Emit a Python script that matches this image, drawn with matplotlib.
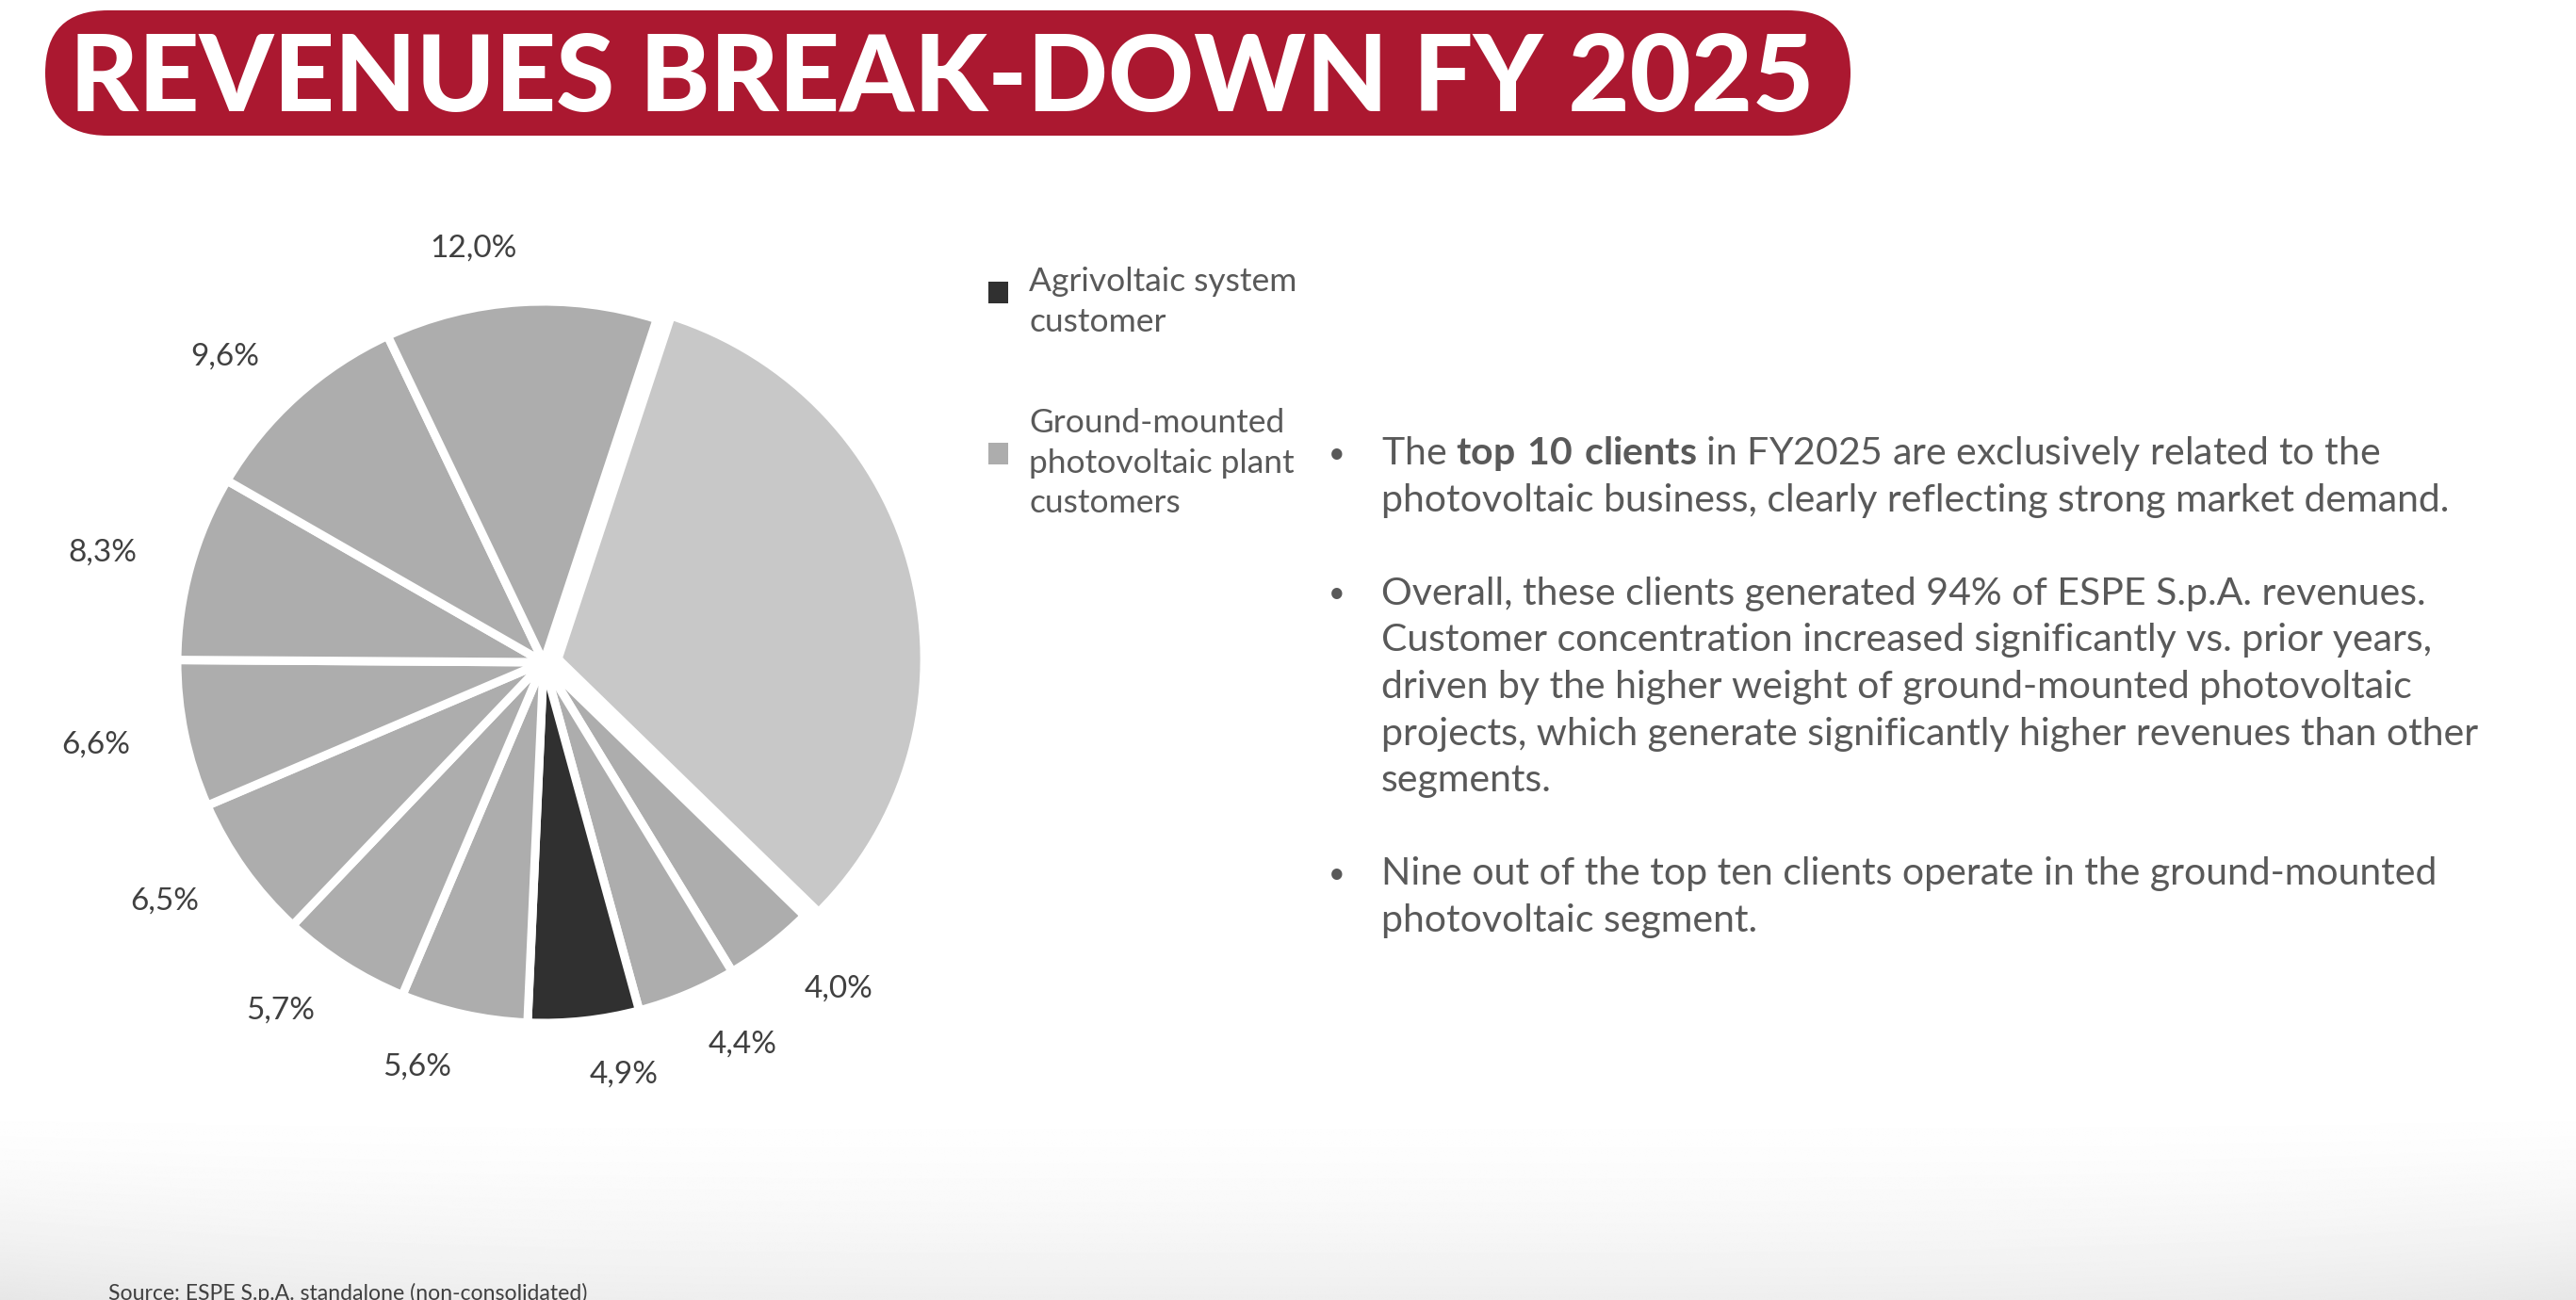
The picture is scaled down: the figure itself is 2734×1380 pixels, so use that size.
import numpy as np
import matplotlib
matplotlib.use("Agg")
import matplotlib.pyplot as plt
from matplotlib.patches import FancyBboxPatch, Rectangle

plt.rcParams['font.family'] = ['Lato', 'DejaVu Sans']
plt.rcParams['mathtext.fontset'] = 'custom'
plt.rcParams['mathtext.rm'] = 'Lato'
plt.rcParams['mathtext.bf'] = 'Lato:bold'

# ---- data ----
title = "REVENUES BREAK-DOWN FY 2025"
shares = [32.4, 4.0, 4.4, 4.9, 5.6, 5.7, 6.5, 6.6, 8.3, 9.6, 12.0]
share_labels = ["", "4,0%", "4,4%", "4,9%", "5,6%", "5,7%", "6,5%", "6,6%",
                "8,3%", "9,6%", "12,0%"]
segments = ["other", "ground", "ground", "agri", "ground", "ground", "ground",
            "ground", "ground", "ground", "ground"]
legend_keys = ["agri", "ground"]
legend_labels = ["Agrivoltaic system\ncustomer",
                 "Ground-mounted\nphotovoltaic plant\ncustomers"]
bullets = [
    [r"The $\mathbf{top\ 10\ clients}$ in FY2025 are exclusively related to the",
     "photovoltaic business, clearly reflecting strong market demand."],
    ["Overall, these clients generated 94% of ESPE S.p.A. revenues.",
     "Customer concentration increased significantly vs. prior years,",
     "driven by the higher weight of ground-mounted photovoltaic",
     "projects, which generate significantly higher revenues than other",
     "segments."],
    ["Nine out of the top ten clients operate in the ground-mounted",
     "photovoltaic segment."],
]
source = "Source: ESPE S.p.A. standalone (non-consolidated)"

seg_colors = {"other": "#c8c8c8", "ground": "#adadad", "agri": "#303030"}
text_grey = "#595959"

W, H = 2734, 1380
fig = plt.figure(figsize=(W / 100, H / 100), dpi=100)

# background axes in pixel units (y down)
bg = fig.add_axes([0, 0, 1, 1])
bg.set_xlim(0, W)
bg.set_ylim(H, 0)
bg.axis('off')

# soft grey fade at the bottom
v = np.linspace(0, 1, 200)[:, None]
u = np.linspace(-1, 1, 400)[None, :]
shade = 1 - (v ** 1.6) * (0.065 + 0.03 * np.abs(u) ** 4)
bg.imshow(shade, extent=(0, W, H, 1160), cmap='gray', vmin=0, vmax=1,
          aspect='auto', interpolation='bilinear', zorder=0)

# title pill
pill = FancyBboxPatch((48, 11), 1916, 133,
                      boxstyle="round,pad=0,rounding_size=66.5",
                      fc="#ab1830", ec="none", zorder=2)
bg.add_patch(pill)
bg.text(74, 118, title, ha='left', va='baseline', fontsize=81,
        fontweight='black', color='white', zorder=3)

# pie
cx, cy = 577, 703
rx, ry = 389, 383
lim = 1.4
pie_ax = fig.add_axes([(cx - lim * rx) / W, 1 - (cy + lim * ry) / H,
                       2 * lim * rx / W, 2 * lim * ry / H])
wedges, texts = pie_ax.pie(
    shares, labels=share_labels,
    colors=[seg_colors[s] for s in segments],
    explode=[0.04 if s == "other" else 0 for s in segments],
    startangle=72, counterclock=False, labeldistance=1.15,
    wedgeprops=dict(edgecolor='white', linewidth=6.5),
    textprops=dict(fontsize=24, color='#404040'))
pie_ax.set_aspect('auto')
pie_ax.set_xlim(-lim, lim)
pie_ax.set_ylim(-lim, lim)

# legend
leg_x, sq_w, sq_h = 1049, 21, 23
leg_pitch = 42.5
leg_tops = [299, 449]
for key, lab, top in zip(legend_keys, legend_labels, leg_tops):
    n = lab.count("\n") + 1
    for i, line in enumerate(lab.split("\n")):
        bg.text(leg_x + 43, top + i * leg_pitch, line, ha='left', va='center',
                fontsize=25.5, color=text_grey)
    mid = top + (n - 1) * leg_pitch / 2 - 10
    bg.add_patch(Rectangle((leg_x, mid - sq_h / 2), sq_w, sq_h,
                           fc=seg_colors[key], ec='none'))

# bullet text
pitch = 49.5
y0 = 482
k = 0
for para in bullets:
    bg.text(1419, y0 + k * pitch, "\u2022", ha='center', va='center',
            fontsize=22, color=text_grey)
    for line in para:
        bg.text(1466, y0 + k * pitch, line, ha='left', va='center',
                fontsize=29.5, color=text_grey)
        k += 1
    k += 1

bg.text(115, 1362, source, ha='left', va='top', fontsize=16.6,
        color='#404040')

fig.savefig("out.png", dpi=100)
